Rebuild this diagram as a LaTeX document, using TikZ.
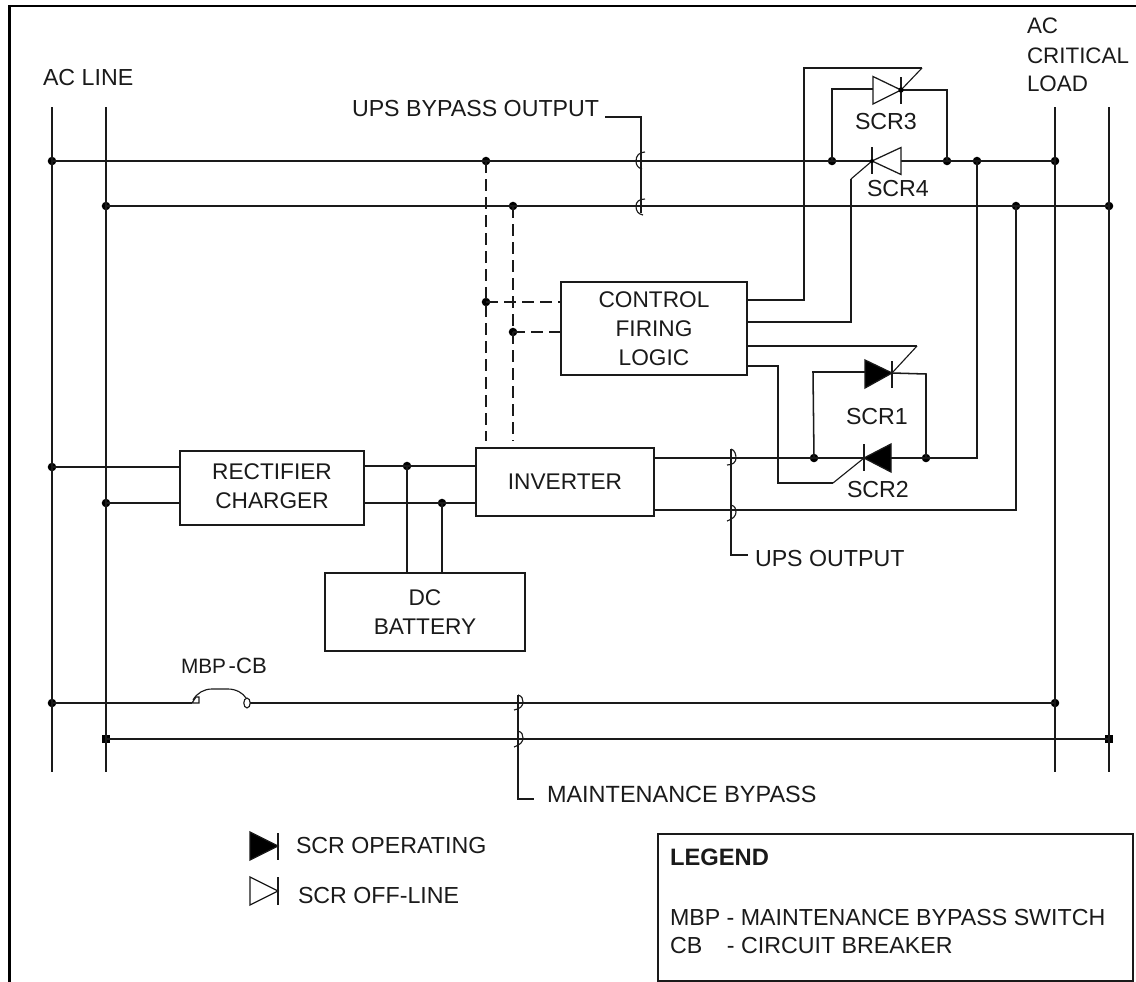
\documentclass[tikz,border=0pt]{standalone}
\usepackage{fontspec}
\setmainfont{Liberation Sans}
\definecolor{ink}{HTML}{1A1A1A}
\tikzset{
  wire/.style={line width=1.15pt,color=ink},
  thin wire/.style={line width=.85pt,color=ink},
  heavy wire/.style={line width=1.5pt,color=ink},
  dash wire/.style={line width=1.15pt,color=ink,dash pattern=on 9pt off 4.5pt},
  dot/.style={circle,fill=black,inner sep=0pt,outer sep=0pt,minimum size=6.4pt},
  sqdot/.style={rectangle,fill=black,inner sep=0pt,outer sep=0pt,minimum size=5.5pt},
  blockbox/.style={draw=ink,line width=1.15pt,fill=white,inner sep=0pt,outer sep=0pt,align=center,
     font=\fontsize{17}{21.6}\selectfont,text=ink},
  txt/.style={anchor=base west,inner sep=0pt,outer sep=0pt,text=ink,font=\fontsize{17.4}{21}\selectfont},
  scrshape/.style={line width=.95pt,color=ink,line join=miter},
}
\begin{document}
\begin{tikzpicture}[x=0.75pt,y=-0.75pt]
\useasboundingbox (0,0) rectangle (1136,982);
\fill[white] (0,0) rectangle (1136,982);
\draw[line width=2.2pt,color=black] (9.5,982) -- (9.5,6) -- (1136,6);

% junctions
\node[dot] (a1) at (52,161) {};
\node[dot] (b1) at (106,206) {};
\node[dot] (a2) at (52,467) {};
\node[dot] (b2) at (106,503) {};
\node[dot] (a3) at (52,703) {};
\node[sqdot] (b3) at (106,739) {};
\node[dot] (c1) at (1055,161) {};
\node[dot] (e1) at (1109,206) {};
\node[dot] (c3) at (1055,703) {};
\node[sqdot] (e3) at (1109,739) {};
\node[dot] (j1) at (486,161) {};
\node[dot] (j2) at (513,206) {};
\node[dot] (j3) at (486,302) {};
\node[dot] (j4) at (513,332) {};
\node[dot] (s1) at (832,161) {};
\node[dot] (s2) at (947,161) {};
\node[dot] (s3) at (977,161) {};
\node[dot] (s4) at (1016,206) {};
\node[dot] (s5) at (814,458) {};
\node[dot] (s6) at (926,458) {};
\node[dot] (dc1) at (407,466) {};
\node[dot] (dc2) at (442,503) {};

% line ends
\coordinate (a0) at (52,107);  \coordinate (a9) at (52,772);
\coordinate (b0) at (106,107); \coordinate (b9) at (106,772);
\coordinate (c0) at (1055,107);\coordinate (c9) at (1055,772);
\coordinate (e0) at (1109,107);\coordinate (e9) at (1109,772);

% blocks
\node[blockbox,minimum width=138pt,minimum height=55.5pt] (rect) at (272,488) {\raisebox{0.7pt}{\begin{tabular}{@{}c@{}}RECTIFIER\\CHARGER\end{tabular}}};
\node[blockbox,minimum width=133.5pt,minimum height=51pt] (inv) at (565,482) {\raisebox{1pt}{INVERTER}};
\node[blockbox,minimum width=139.5pt,minimum height=69.75pt] (ctl) at (654,328.5) {CONTROL\\FIRING\\LOGIC};
\node[blockbox,minimum width=150pt,minimum height=58.5pt] (dc) at (425,612) {DC\\BATTERY};
\node[blockbox,minimum width=356.25pt,minimum height=110.25pt] (legend) at (895.5,907.5) {};

% vertical lines
\draw[wire] (a0) -- (a9);
\draw[wire] (b0) -- (b9);
\draw[wire] (c0) -- (c9);
\draw[wire] (e0) -- (e9);

% rails
\draw[wire] (a1.center) -- (c1.center);
\draw[wire] (b1.center) -- (e1.center);

% rectifier / inverter
\draw[wire] (a2.center) -- (rect.west |- a2);
\draw[wire] (b2.center) -- (rect.west |- b2);
\draw[wire] (rect.east |- dc1) -- (inv.west |- dc1);
\draw[wire] (rect.east |- dc2) -- (inv.west |- dc2);
\draw[wire] (dc1.center) -- (dc1 |- dc.north);
\draw[wire] (dc2.center) -- (dc2 |- dc.north);

% dashed control lines
\coordinate (da) at (486,441); \coordinate (db) at (513,441);
\draw[dash wire] (j1.center) -- (da);
\draw[dash wire] (j2.center) -- (db);
\draw[dash wire] (j3.center) -- (ctl.west |- j3);
\draw[dash wire] (j4.center) -- (ctl.west |- j4);

% inverter outputs
\coordinate (o1) at (977,458);
\coordinate (o2) at (1016,510);
\draw[wire] (inv.east |- o1) -- (o1) -- (s3.center);
\draw[wire] (inv.east |- o2) -- (o2) -- (s4.center);

% SCR3 / SCR4 branch
\coordinate (t3) at (901,90);
\coordinate (g3) at (922,68);
\coordinate (g3a) at (804,68);
\coordinate (g3b) at (804,300);
\coordinate (g4) at (851,179);
\coordinate (g4b) at (851,322);
\coordinate (t4) at (872,161);
\draw[wire] (s1.center) -- (832,89) -- (873,89);
\draw[wire] (t3) -- (947,90) -- (s2.center);
\draw[wire] (ctl.east |- g3b) -- (g3b) -- (g3a) -- (g3);
\draw[thin wire] (g3) -- (t3);
\draw[wire] (ctl.east |- g4b) -- (g4b) -- (g4);
\draw[thin wire] (g4) -- (t4);
\draw[scrshape,fill=white] (873,76.5) -- (t3) -- (873,104) -- cycle;
\draw[scrshape] (901,77) -- (901,104);
\draw[scrshape,fill=white] (901,147.5) -- (t4) -- (901,174.5) -- cycle;
\draw[scrshape] (872,147) -- (872,174);
\fill[black] (t3) circle (2pt);
\fill[black] (t4) circle (1.5pt);

% SCR1 / SCR2 branch
\coordinate (t1) at (892,373);
\coordinate (t2) at (864,458);
\coordinate (g1) at (917,346);
\coordinate (g2a) at (778,366);
\coordinate (g2b) at (778,483);
\coordinate (g2) at (833,483);
\draw[wire] (s5.center) -- (813,372) -- (865,372);
\draw[wire] (t1) -- (926,374) -- (s6.center);
\draw[wire] (ctl.east |- g1) -- (g1);
\draw[thin wire] (g1) -- (t1);
\draw[wire] (ctl.east |- g2a) -- (g2a) -- (g2b) -- (g2);
\draw[thin wire] (g2) -- (t2);
\draw[scrshape,fill=black] (865,360) -- (t1) -- (865,388) -- cycle;
\draw[scrshape] (892,361) -- (892,388);
\draw[scrshape,fill=black] (891,444) -- (t2) -- (891,472) -- cycle;
\draw[scrshape] (864,444) -- (864,471);

% maintenance bypass lines
\coordinate (cb1) at (192,703);
\coordinate (cb3) at (250,703);
\draw[wire] (a3.center) -- (cb1);
\draw[wire] (cb3) -- (c3.center);
\draw[heavy wire] (b3.center) -- (e3.center);
\draw[thin wire] (cb1) -- (199,703) -- (199,697) -- (196,697) -- cycle;
\draw[thin wire] (193,700) .. controls (197,693) and (204,689) .. (212,689) -- (228,689) .. controls (236,689) and (243,693) .. (246,698);
\draw[thin wire,fill=white] (247,703) ellipse (2.4pt and 3.7pt);

% leader lines with crossing hooks
\coordinate (ub0) at (605,117);
\coordinate (ub1) at (641,117);
\coordinate (ub2) at (641,213);
\draw[wire] (ub0) -- (ub1) -- (ub2);
\draw[thin wire] (645,152) .. controls (639,152) and (636,156) .. (636,161) .. controls (636,165) and (638,168) .. (642,169);
\draw[thin wire] (645,199) .. controls (639,199) and (636,202) .. (636,206) .. controls (636,211) and (638,214) .. (643,215);

\coordinate (uo0) at (731,449);
\coordinate (uo1) at (731,555);
\coordinate (uo2) at (748,555);
\draw[wire] (uo0) -- (uo1) -- (uo2);
\draw[thin wire] (731,449) .. controls (735,450) and (736,455) .. (736,458) .. controls (736,462) and (733,465) .. (727,465);
\draw[thin wire] (731,505) .. controls (735,506) and (736,509) .. (736,512) .. controls (736,516) and (733,519) .. (727,521);

\coordinate (mb0) at (518,695);
\coordinate (mb1) at (518,799);
\coordinate (mb2) at (534,799);
\draw[wire] (mb0) -- (mb1) -- (mb2);
\draw[thin wire] (518,695) .. controls (522,696) and (523,699) .. (523,702) .. controls (523,706) and (520,709) .. (514,710);
\draw[thin wire] (518,731) .. controls (522,732) and (523,735) .. (523,738) .. controls (523,742) and (520,745) .. (514,747);

% key symbols
\draw[scrshape,fill=black] (250,832) -- (278,846) -- (250,860) -- cycle;
\draw[scrshape] (278,833) -- (278,860);
\draw[scrshape] (250,877) -- (278,891) -- (250,905) -- cycle;
\draw[scrshape] (278,877) -- (278,905);

% labels
\node[txt] (acline) at (43,85) {AC LINE};
\node[txt,font=\fontsize{16.8}{21}\selectfont] (ac1) at (1027,33) {AC};
\node[txt,font=\fontsize{16.8}{21}\selectfont] (ac2) at (1027,63) {CRITICAL};
\node[txt,font=\fontsize{16.8}{21}\selectfont] (ac3) at (1027,91) {LOAD};
\node[txt] (ubl) at (352,116) {UPS BYPASS OUTPUT};
\node[txt] (scr3) at (855,129) {SCR3};
\node[txt] (scr4) at (867,196) {SCR4};
\node[txt] (scr1) at (846,424) {SCR1};
\node[txt] (scr2) at (847,497) {SCR2};
\node[txt] (uol) at (755,566) {UPS OUTPUT};
\node[txt,font=\fontsize{17.6}{21}\selectfont] (mbl) at (547,802) {MAINTENANCE BYPASS};
\node[txt,font=\fontsize{16.6}{21}\selectfont] (mbpcb) at (181,673) {{\fontsize{15.6}{16}\selectfont MBP\hspace{2pt}}-CB};
\node[txt] (keyon) at (296,853) {SCR OPERATING};
\node[txt] (keyoff) at (298,903) {SCR OFF-LINE};
\node[txt,font=\fontsize{17.8}{21}\selectfont\bfseries] (leg0) at (670,865) {LEGEND};
\node[txt] (leg1) at (670,925) {MBP - MAINTENANCE BYPASS SWITCH};
\node[txt] (leg2) at (670,953) {\makebox[42.75pt][l]{CB}- CIRCUIT BREAKER};
\end{tikzpicture}
\end{document}
